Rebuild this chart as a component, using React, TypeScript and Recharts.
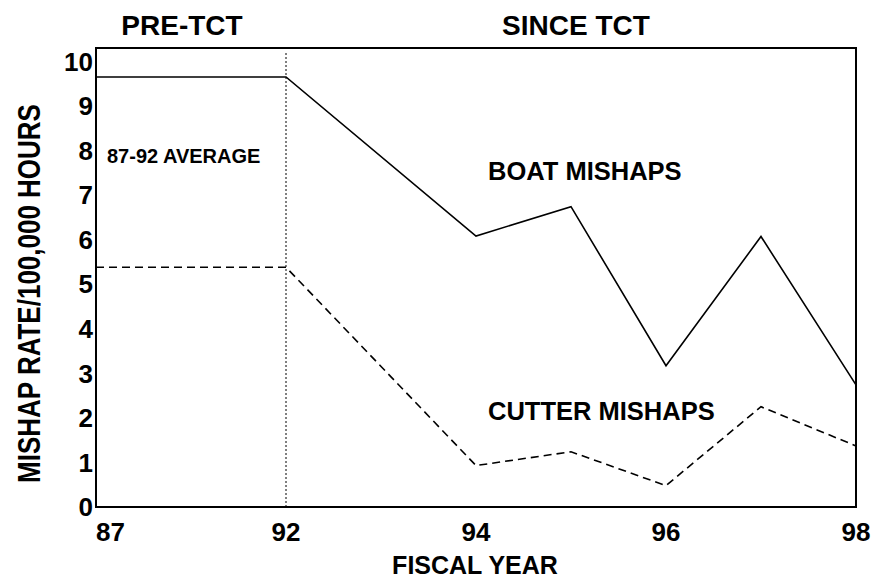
import React from "react";
import { LineChart, Line, XAxis, YAxis, ReferenceArea, ReferenceLine } from "recharts";

// Fiscal years shown as points; slot = position along the axis (87-92 average spans two slots)
const years = ["87", "92", "94", "95", "96", "97", "98"];
const slot = [0, 2, 4, 5, 6, 7, 8];
const boatMishaps = [9.65, 9.65, 6.08, 6.74, 3.17, 6.07, 2.74];
const cutterMishaps = [5.38, 5.38, 0.93, 1.24, 0.48, 2.25, 1.37];

const xTickSlots = [0, 2, 4, 6, 8];
const xTickLabels = ["87", "92", "94", "96", "98"];
const yTicks = [0, 1, 2, 3, 4, 5, 6, 7, 8, 9, 10];

const data = years.map((y, i) => ({
  year: y,
  slot: slot[i],
  boat: boatMishaps[i],
  cutter: cutterMishaps[i],
}));

const FONT = "'Liberation Sans', Arial, Helvetica, sans-serif";

const XTick = (props: any) => {
  const { x, y, payload } = props;
  const idx = xTickSlots.indexOf(payload.value);
  const label = idx >= 0 ? xTickLabels[idx] : "";
  const anchor = idx === 0 ? "start" : "middle";
  return (
    <text
      x={x}
      y={y}
      dy="0.71em"
      textAnchor={anchor}
      fontFamily={FONT}
      fontWeight="bold"
      fontSize={26}
      fill="#000"
    >
      {label}
    </text>
  );
};

export default function App() {
  return (
    <div style={{ position: "absolute", left: 0, top: 0, width: 872, height: 581, background: "#fff" }}>
      <LineChart
        width={872}
        height={581}
        data={data}
        margin={{ top: 48, right: 16, left: 0, bottom: 0 }}
      >
        <XAxis
          dataKey="slot"
          type="number"
          domain={[0, 8]}
          ticks={xTickSlots}
          height={74}
          axisLine={false}
          tickLine={false}
          tickSize={0}
          tickMargin={16}
          tick={<XTick />}
          interval={0}
        />
        <YAxis
          type="number"
          domain={[0, 10.3]}
          ticks={yTicks}
          width={96}
          axisLine={false}
          tickLine={false}
          tickSize={0}
          tickMargin={3}
          interval={0}
          allowDataOverflow
          tick={{ fontFamily: FONT, fontWeight: "bold", fontSize: 26, fill: "#000" }}
        />
        <ReferenceLine
          segment={[{ x: 2, y: 0 }, { x: 2, y: 10.2 }]}
          stroke="#000"
          strokeWidth={1}
          strokeDasharray="2 2"
        />
        <Line
          dataKey="boat"
          type="linear"
          stroke="#000"
          strokeWidth={1.6}
          dot={false}
          activeDot={false}
          isAnimationActive={false}
        />
        <Line
          dataKey="cutter"
          type="linear"
          stroke="#000"
          strokeWidth={1.6}
          strokeDasharray="8 5"
          dot={false}
          activeDot={false}
          isAnimationActive={false}
        />
        <ReferenceArea
          x1={0}
          x2={8}
          y1={0}
          y2={10.3}
          fill="none"
          fillOpacity={0}
          stroke="#000"
          strokeWidth={2}
          ifOverflow="visible"
        />
        <text x={182} y={35} textAnchor="middle" fontFamily={FONT} fontWeight="bold" fontSize={28} fill="#000">
          PRE-TCT
        </text>
        <text x={576} y={35} textAnchor="middle" fontFamily={FONT} fontWeight="bold" fontSize={28} fill="#000">
          SINCE TCT
        </text>
        <text x={107} y={163} textAnchor="start" fontFamily={FONT} fontWeight="bold" fontSize={20} fill="#000">
          87-92 AVERAGE
        </text>
        <text x={488} y={180} textAnchor="start" fontFamily={FONT} fontWeight="bold" fontSize={25.5} fill="#000">
          BOAT MISHAPS
        </text>
        <text x={488} y={420} textAnchor="start" fontFamily={FONT} fontWeight="bold" fontSize={25.5} fill="#000">
          CUTTER MISHAPS
        </text>
        <text x={475} y={574} textAnchor="middle" fontFamily={FONT} fontWeight="bold" fontSize={25} fill="#000">
          FISCAL YEAR
        </text>
        <text
          x={0}
          y={0}
          transform="translate(29 293.5) rotate(-90) scale(1 1.18)"
          textAnchor="middle"
          dominantBaseline="central"
          fontFamily={FONT}
          fontWeight="bold"
          fontSize={26}
          fill="#000"
        >
          MISHAP RATE/100,000 HOURS
        </text>
      </LineChart>
    </div>
  );
}
